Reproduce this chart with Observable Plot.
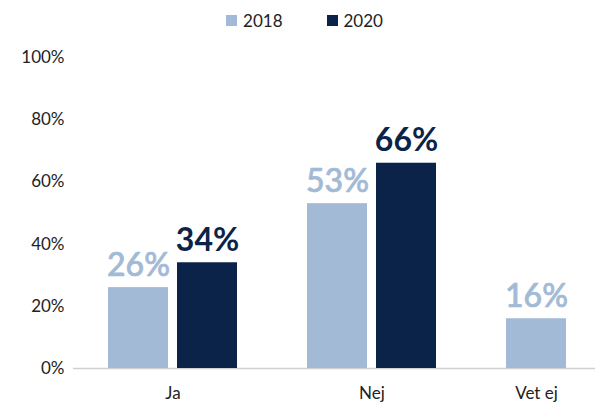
<!DOCTYPE html>
<html>
<head>
<meta charset="utf-8">
<script src="https://cdn.jsdelivr.net/npm/d3@7"></script>
<script src="https://cdn.jsdelivr.net/npm/@observablehq/plot@0.6"></script>
<style>
  html, body { margin: 0; padding: 0; background: #fff; overflow: hidden; width: 595px; height: 403px; }
  #legend { height: 40px; display: flex; justify-content: center; align-items: center; gap: 44px; padding-left: 14px;
            font-family: Lato, "Noto Sans", sans-serif; font-size: 17px; color: #222; box-sizing: border-box; }
  .item { display: flex; align-items: center; gap: 6px; }
  .sw { width: 11px; height: 11px; display: inline-block; }
  #chart svg { overflow: hidden; display: block; }
</style>
</head>
<body>
<div id="legend"></div>
<div id="chart"></div>
<script>
const categories = ["Ja", "Nej", "Vet ej"];
const years = ["2018", "2020"];
const values2018 = [26, 53, 16];
const values2020 = [34, 66, null];
const yearColors = ["#a2bad5", "#0b2349"];
const yTicks = [0, 20, 40, 60, 80, 100];

const series = {"2018": values2018, "2020": values2020};
const data = categories.flatMap((c, i) =>
  years.filter(y => series[y][i] != null).map(y => ({category: c, year: y, value: series[y][i]}))
);
const singleSeries = d => data.filter(e => e.category === d.category).length === 1;

// legend
const legend = document.getElementById("legend");
years.forEach((y, i) => {
  const it = document.createElement("div");
  it.className = "item";
  const sw = document.createElement("span");
  sw.className = "sw";
  sw.style.background = yearColors[i];
  const t = document.createElement("span");
  t.textContent = y;
  it.append(sw, t);
  legend.append(it);
});

const chart = Plot.plot({
  width: 595,
  height: 363,
  marginTop: 17,
  marginBottom: 35,
  marginLeft: 72,
  marginRight: 0,
  style: {fontFamily: "Lato, 'Noto Sans', sans-serif", fontSize: "17px", color: "#222", background: "#fff"},
  facet: {data, x: "category", marginLeft: 0, marginRight: 0},
  fx: {
    domain: categories,
    range: [72, 670],
    padding: 0,
    label: null,
    tickSize: 0,
    tickPadding: 18,
    tickFormat: c => data.filter(d => d.category === c).length === 1 ? "" : c
  },
  x: {domain: years, paddingInner: 0.1286, paddingOuter: 0.486, axis: null},
  y: {domain: [0, 100], ticks: yTicks, tickFormat: d => d + "%", tickSize: 0, tickPadding: 9, label: null},
  color: {domain: years, range: yearColors},
  marks: [
    Plot.ruleY([0], {stroke: "#d0d0d0", strokeWidth: 1.3}),
    Plot.barY(data, {x: "year", y: "value", fill: "year"}),
    Plot.text(data, {filter: d => d.year === "2018", x: "year", y: "value", text: d => d.value + "%",
      fill: "year", stroke: "year", strokeWidth: 0.7, fontSize: 32, fontWeight: 500, lineAnchor: "bottom", dy: -12}),
    Plot.text(data, {filter: d => d.year === "2020", x: "year", y: "value", text: d => d.value + "%",
      fill: "year", fontSize: 32, fontWeight: 700, lineAnchor: "bottom", dy: -12}),
    Plot.text(data, {filter: singleSeries, x: "year", frameAnchor: "bottom", lineAnchor: "top", dy: 18,
      text: "category", fill: "#222", fontSize: 17})
  ]
});
document.getElementById("chart").append(chart);
</script>
</body>
</html>
